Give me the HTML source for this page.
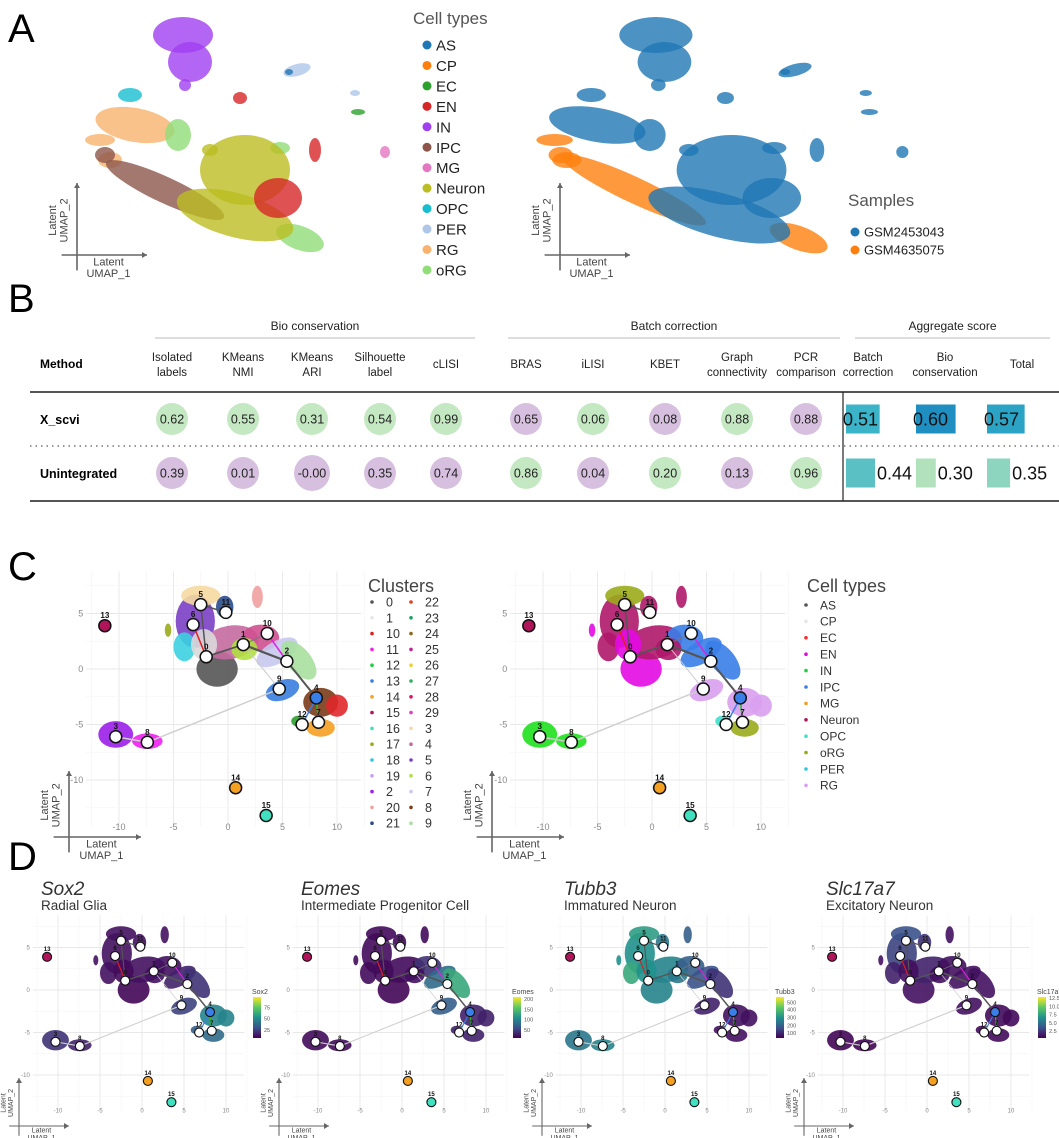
<!DOCTYPE html>
<html><head><meta charset="utf-8">
<style>
html,body{margin:0;padding:0;background:#fff;}
svg{display:block;font-family:"Liberation Sans","DejaVu Sans",sans-serif;}
.b text{font-family:"Liberation Sans","DejaVu Sans",sans-serif;}
</style></head>
<body>
<svg id="fig" width="1059" height="1138" viewBox="0 0 1059 1138" xmlns="http://www.w3.org/2000/svg">
<g id="pA"></g>
<g id="pB" class="b"></g>
<g id="pC"></g>
<g id="pD"></g>
<text x="8" y="42" font-size="40">A</text>
<text x="8" y="312" font-size="40">B</text>
<text x="8" y="580" font-size="40">C</text>
<text x="8" y="870" font-size="40">D</text>
</svg>
<script>
const NS='http://www.w3.org/2000/svg';
function mk(p,tag,at,txt){const e=document.createElementNS(NS,tag);for(const k in at)e.setAttribute(k,at[k]);if(txt!==undefined)e.textContent=txt;p.appendChild(e);return e;}

// ---------- Panel A data ----------
const aCellTypes=['AS','CP','EC','EN','IN','IPC','MG','Neuron','OPC','PER','RG','oRG'];
const aCellColors=['#1f77b4','#ff7f0e','#2ca02c','#d62728','#a03ff0','#8c564b','#e377c2','#bcbd22','#17becf','#aec7e8','#f9b36e','#90dd78'];
const aSamples=['GSM2453043','GSM4635075'];
const aSampleColors=['#1f77b4','#ff7f0e'];
const aBlobX=[183,190,185,130,135,100,110,178,300,280,165,105,245,235,210,278,240,315,297,289,355,358,385];
const aBlobY=[35,62,85,95,125,140,160,135,238,148,190,155,170,215,150,198,98,150,70,72,93,112,152];
const aBlobRX=[30,22,6,12,40,15,12,13,25,10,65,10,45,60,8,24,7,6,14,4,5,7,5];
const aBlobRY=[18,20,6,7,17,6,8,16,12,6,13,8,35,22,6,20,6,12,6,3,3,3,6];
const aBlobRot=[0,0,0,0,10,0,0,0,20,0,25,0,0,15,0,0,0,0,-15,0,0,0,0];
const aBlobType=[4,4,4,8,10,10,10,11,11,11,5,5,7,7,7,3,3,3,9,0,9,2,6];
const aBlobSample=[0,0,0,0,0,1,1,0,1,0,1,1,0,0,0,0,0,0,0,0,0,0,0];

const pA=document.getElementById('pA');
function latentAxes(g,x0,yb,vlen,hlen,fs,name){
  const a=mk(g,'g',{});
  
  
  mk(a,'line',{x1:x0,y1:yb+fs*1.4,x2:x0,y2:yb-vlen,stroke:'#666','stroke-width':fs>9?1.6:1.1});
  mk(a,'line',{x1:x0-fs*1.4,y1:yb,x2:x0+hlen,y2:yb,stroke:'#666','stroke-width':fs>9?1.6:1.1});
  mk(a,'polygon',{points:`${x0-3},${yb-vlen+5} ${x0},${yb-vlen} ${x0+3},${yb-vlen+5}`,fill:'#666'});
  mk(a,'polygon',{points:`${x0+hlen-5},${yb-3} ${x0+hlen},${yb} ${x0+hlen-5},${yb+3}`,fill:'#666'});
  const cx=x0+hlen*0.45;
  mk(a,'text',{x:cx,y:yb+fs*0.95,'font-size':fs,'text-anchor':'middle',fill:'#444'},'Latent');
  mk(a,'text',{x:cx,y:yb+fs*2.0,'font-size':fs,'text-anchor':'middle',fill:'#444'},'UMAP_1');
  const cy=yb-vlen*0.48;
  mk(a,'text',{x:0,y:0,'font-size':fs,'text-anchor':'middle',fill:'#444',transform:`translate(${x0-fs*1.9},${cy}) rotate(-90)`},'Latent');
  mk(a,'text',{x:0,y:0,'font-size':fs,'text-anchor':'middle',fill:'#444',transform:`translate(${x0-fs*0.85},${cy}) rotate(-90)`},'UMAP_2');
}
function drawA(offX,sx,useSample,name){
  const g=mk(pA,'g',{});
  
  
  for(let i=0;i<aBlobX.length;i++){
    const cx=offX+(aBlobX[i]-88)*sx, cy=aBlobY[i];
    const col=useSample?aSampleColors[aBlobSample[i]]:aCellColors[aBlobType[i]];
    const e=mk(g,'ellipse',{cx:cx,cy:cy,rx:aBlobRX[i]*sx,ry:aBlobRY[i],fill:col,opacity:0.8,transform:`rotate(${aBlobRot[i]} ${cx} ${cy})`});
    
    
  }
}
drawA(88,1,false,'umap-cell-types');
drawA(540,1.22,true,'umap-samples');
latentAxes(pA,77,255,72,70,11,'latent-axes-a-left');
latentAxes(pA,560,255,72,70,11,'latent-axes-a-right');
{
  const lg=mk(pA,'g',{});
  
  
  mk(lg,'text',{x:413,y:24,'font-size':17,fill:'#555'},'Cell types');
  aCellTypes.forEach((t,i)=>{
    const y=45+i*20.45;
    const c=mk(lg,'circle',{cx:427,cy:y,r:4.5,fill:aCellColors[i]});
    
    
    mk(lg,'text',{x:436,y:y+5.5,'font-size':15,fill:'#222'},t);
  });
  const sg=mk(pA,'g',{});
  
  
  mk(sg,'text',{x:848,y:206,'font-size':17,fill:'#555'},'Samples');
  aSamples.forEach((t,i)=>{
    const y=232+i*18;
    mk(sg,'circle',{cx:855,cy:y,r:4.5,fill:aSampleColors[i]});
    mk(sg,'text',{x:864,y:y+4.5,'font-size':13,fill:'#222'},t);
  });
}

// ---------- Panel B data ----------
const bGroups=['Bio conservation','Batch correction','Aggregate score'];
const bColHead=[['Isolated','labels'],['KMeans','NMI'],['KMeans','ARI'],['Silhouette','label'],['cLISI',''],['BRAS',''],['iLISI',''],['KBET',''],['Graph','connectivity'],['PCR','comparison'],['Batch','correction'],['Bio','conservation'],['Total','']];
const bMethods=['X_scvi','Unintegrated'];
const bScvi=[0.62,0.55,0.31,0.54,0.99,0.65,0.06,0.08,0.88,0.88];
const bUnint=[0.39,0.01,-0.00,0.35,0.74,0.86,0.04,0.20,0.13,0.96];
const bAggScvi=[0.51,0.60,0.57];
const bAggUnint=[0.44,0.30,0.35];
const bLabelsScvi=['0.62','0.55','0.31','0.54','0.99','0.65','0.06','0.08','0.88','0.88'];
const bLabelsUnint=['0.39','0.01','-0.00','0.35','0.74','0.86','0.04','0.20','0.13','0.96'];
const bAggLabScvi=['0.51','0.60','0.57'];
const bAggLabUnint=['0.44','0.30','0.35'];
{
  const g=document.getElementById('pB');
  const colX=[172,243,312,380,446,526,593,665,737,806,868,945,1022];
  const grp=[[155,475],[508,840],[855,1050]];
  bGroups.forEach((t,i)=>{
    mk(g,'text',{x:(grp[i][0]+grp[i][1])/2,y:330,'font-size':12,'text-anchor':'middle',fill:'#222'},t);
    mk(g,'line',{x1:grp[i][0],y1:338,x2:grp[i][1],y2:338,stroke:'#bbb','stroke-width':1});
  });
  mk(g,'text',{x:40,y:368,'font-size':12,'font-weight':'bold'},'Method');
  bColHead.forEach((h,i)=>{
    const t=mk(g,'text',{x:colX[i],y:h[1]?361:368,'font-size':11.5,'text-anchor':'middle',fill:'#222'},h[0]);
    
    
    if(h[1])mk(g,'text',{x:colX[i],y:376,'font-size':11.5,'text-anchor':'middle',fill:'#222'},h[1]);
  });
  mk(g,'line',{x1:30,y1:392,x2:1059,y2:392,stroke:'#555','stroke-width':2});
  mk(g,'line',{x1:30,y1:501,x2:1059,y2:501,stroke:'#555','stroke-width':2});
  mk(g,'line',{x1:30,y1:446,x2:1059,y2:446,stroke:'#777','stroke-width':1.5,'stroke-dasharray':'1.5 4'});
  mk(g,'line',{x1:843,y1:392,x2:843,y2:501,stroke:'#222','stroke-width':1.2});
  const rowY=[419,473];
  bMethods.forEach((m,i)=>mk(g,'text',{x:40,y:rowY[i]+5,'font-size':12.5,'font-weight':'bold'},m));
  const rows=[bScvi,bUnint], labs=[bLabelsScvi,bLabelsUnint];
  rows.forEach((vals,r)=>{
    vals.forEach((v,i)=>{
      const other=rows[1-r][i];
      const better=v>=other;
      const r0=16+(Math.abs(v)<0.005?2:0);
      const c=mk(g,'circle',{cx:colX[i],cy:rowY[r],r:r0,fill:better?'#c4e8c2':'#d7c0df'});
      
      
      mk(g,'text',{x:colX[i],y:rowY[r]+4.5,'font-size':12.5,'text-anchor':'middle',fill:'#222'},labs[r][i]);
    });
  });
  const aggX=[846,916,987];
  const bw=66;
  const aggRows=[bAggScvi,bAggUnint], aggLab=[bAggLabScvi,bAggLabUnint];
  const aggCol=[['#3bb3c8','#1f8fc2','#2aa3c4'],['#5bc0c4','#b2e2bc','#8ed5bf']];
  aggRows.forEach((vals,r)=>{
    vals.forEach((v,i)=>{
      const w=v*bw;
      const rect=mk(g,'rect',{x:aggX[i],y:rowY[r]-14.5,width:w,height:29,fill:aggCol[r][i]});
      
      
      const tx=r===0?aggX[i]-3:aggX[i]+w+2;
      mk(g,'text',{x:tx,y:rowY[r]+6.5,'font-size':18,fill:'#111'},aggLab[r][i]);
    });
  });
}

// ---------- Panels C / D shared UMAP data ----------
const uX=[-3,-2.5,-0.3,-1,0.2,-4,2.7,3,4.5,6.5,5,8.5,10,8.5,6.5,-10.3,-7.4,-5.5,-2.2,1.5];
const uY=[4.3,6.6,5.6,0,2.4,2.0,6.5,2.8,1.5,0.8,-1.9,-3,-3.3,-5.3,-4.7,-5.9,-6.5,3.5,2.2,1.8];
const uRX=[1.8,1.8,0.8,1.9,2.6,1.0,0.5,1.7,2.1,1.1,1.6,1.6,1.0,1.3,0.7,1.6,1.4,0.3,1.2,1.2];
const uRY=[2.4,0.9,1.0,1.6,1.5,1.3,1.0,1.2,1.0,2.1,0.9,1.3,1.0,0.8,0.5,1.2,0.7,0.6,1.4,1.0];
const uRot=[0,0,0,0,-10,0,0,0,-30,-40,-20,0,0,0,0,0,0,0,0,0];
const uClusterCol=['#7b3fc4','#f5d9a0','#2a4b8d','#555555','#c46aa0','#3cd0e0','#f0a0a0','#d05090','#c8c8f0','#a8e0a0','#3a7ee0','#7a3b1a','#e0282a','#f5a020','#2ca02c','#9a1fe8','#f020f0','#9aab1a','#d9d9d9','#b0e040'];
const uTypeCol=['#b0186a','#9aab1a','#b0186a','#e40ae4','#b0186a','#b0186a','#b0186a','#3a7ee8','#3a7ee8','#3a7ee8','#d8a0f0','#d8a0f0','#d8a0f0','#9aab1a','#40e0d0','#1fe01f','#1fe01f','#e40ae4','#e40ae4','#b0186a'];
const exprSox2=[0.05,0.05,0.05,0.02,0.05,0.05,0.05,0.05,0.1,0.15,0.2,0.45,0.45,0.35,0.3,0.15,0.1,0.05,0.03,0.05];
const exprEomes=[0.03,0.03,0.03,0.02,0.03,0.03,0.03,0.15,0.35,0.6,0.3,0.1,0.1,0.1,0.1,0.03,0.03,0.03,0.03,0.05];
const exprTubb3=[0.5,0.55,0.4,0.45,0.45,0.6,0.3,0.3,0.25,0.15,0.1,0.05,0.05,0.05,0.05,0.4,0.45,0.5,0.5,0.4];
const exprSlc17a7=[0.2,0.25,0.15,0.05,0.1,0.1,0.05,0.05,0.05,0.05,0.05,0.03,0.03,0.03,0.03,0.02,0.02,0.05,0.05,0.05];
const nodeIds=[5,11,6,0,1,10,2,9,4,12,7,3,8,13,14,15];
const nodeX=[-2.5,-0.2,-3.2,-2,1.4,3.6,5.4,4.7,8.1,6.8,8.3,-10.3,-7.4,-11.3,0.7,3.5];
const nodeY=[5.8,5.1,4.0,1.1,2.2,3.2,0.7,-1.8,-2.6,-5.0,-4.8,-6.1,-6.6,3.9,-10.7,-13.2];
const nodeFill=['#fff','#fff','#fff','#fff','#fff','#fff','#fff','#fff','#3a7ee8','#fff','#fff','#fff','#fff','#b0145a','#f5a020','#40e0c0'];
const edgeFrom=[5,5,6,0,1,1,10,2,4,4,9,3,1];
const edgeTo=[11,0,0,1,2,10,2,4,7,12,8,8,9];
const edgeCol=['#555','#555','#e02020','#555','#555','#777','#e020e0','#555','#20c020','#3a7ee8','#d0d0d0','#ccc','#ccc'];
const edgeW=[1.5,1.5,1.5,1.8,2.2,1,1.5,2,1.5,1.5,1.5,1.5,1];
const xTicks=[-10,-5,0,5,10];
const yTicks=[-10,-5,0,5];
const clusterLegend=['0','1','10','11','12','13','14','15','16','17','18','19','2','20','21','22','23','24','25','26','27','28','29','3','4','5','6','7','8','9'];
const clusterLegendCol=['#555','#e6e6e6','#e02020','#f020f0','#20d040','#3a7ee8','#f5a020','#b0145a','#40e0c0','#9aab1a','#30c8e0','#c8a0f0','#9a1fe8','#f0a0a0','#2a4b8d','#e04020','#20a060','#8a6a20','#c02090','#f0d030','#30b060','#e01060','#e040c0','#f5d9a0','#c46aa0','#7b3fc4','#b0e040','#c8c8f0','#7a3b1a','#a8e0a0'];
const typeLegend=['AS','CP','EC','EN','IN','IPC','MG','Neuron','OPC','oRG','PER','RG'];
const typeLegendCol=['#555','#e6e6e6','#f03030','#e40ae4','#20d040','#3a7ee8','#f5a020','#b0145a','#40e0d0','#9aab1a','#30c8e0','#d8a0f0'];

function viridis(t){
  const s=[[68,1,84],[59,82,139],[33,145,140],[94,201,98],[253,231,37]];
  t=Math.max(0,Math.min(1,t));const f=t*4,i=Math.min(3,Math.floor(f)),u=f-i;
  const c=s[i].map((v,k)=>Math.round(v+(s[i+1][k]-v)*u));return `rgb(${c[0]},${c[1]},${c[2]})`;
}
function umap(parent,o,name){
  const g=mk(parent,'g',{});
  
  
  const X=v=>o.ox+v*o.sx, Y=v=>o.oy-v*o.sy;
  for(let v=-12.5;v<=12.5;v+=2.5){const maj=v%5===0;
    mk(g,'line',{x1:X(v),y1:Y(-14.2),x2:X(v),y2:Y(8.8),stroke:maj?'#e8e8e8':'#f3f3f3','stroke-width':maj?0.9:0.6});}
  for(let v=-12.5;v<=7.5;v+=2.5){const maj=v%5===0;
    mk(g,'line',{x1:X(-13),y1:Y(v),x2:X(12.2),y2:Y(v),stroke:maj?'#e8e8e8':'#f3f3f3','stroke-width':maj?0.9:0.6});}
  xTicks.forEach(t=>mk(g,'text',{x:X(t),y:Y(-13.6)+o.fs+1,'font-size':o.fs,'text-anchor':'middle',fill:'#888'},String(t)));
  yTicks.forEach(t=>mk(g,'text',{x:X(-13)-3,y:Y(t)+o.fs*0.35,'font-size':o.fs,'text-anchor':'end',fill:'#888'},String(t)));
  for(let i=0;i<uX.length;i++){
    const cx=X(uX[i]),cy=Y(uY[i]);
    const e=mk(g,'ellipse',{cx:cx,cy:cy,rx:uRX[i]*o.sx,ry:uRY[i]*o.sy,fill:o.col(i),opacity:0.9,transform:`rotate(${uRot[i]} ${cx} ${cy})`});
    
    
  }
  const pos=id=>{const k=nodeIds.indexOf(id);return [X(nodeX[k]),Y(nodeY[k])];};
  edgeFrom.forEach((f,i)=>{const a=pos(f),b=pos(edgeTo[i]);
    const l=mk(g,'line',{x1:a[0],y1:a[1],x2:b[0],y2:b[1],stroke:edgeCol[i],'stroke-width':edgeW[i]*o.nr/6});
    
    
  });
  nodeIds.forEach((id,k)=>{
    const cx=X(nodeX[k]),cy=Y(nodeY[k]);
    const c=mk(g,'circle',{cx:cx,cy:cy,r:o.nr,fill:nodeFill[k],stroke:'#111','stroke-width':o.nr/4});
    
    
    mk(g,'text',{x:cx,y:cy-o.nr-1.5,'font-size':o.nr*1.35,'font-weight':'bold','text-anchor':'middle',fill:'#111'},String(id));
  });
  return g;
}
const pC=document.getElementById('pC');
umap(pC,{ox:228,oy:669,sx:10.9,sy:11.1,fs:9,nr:6,col:i=>uClusterCol[i]},'umap-clusters');
umap(pC,{ox:652,oy:669,sx:10.9,sy:11.1,fs:9,nr:6,col:i=>uTypeCol[i]},'umap-cell-types-c');
latentAxes(pC,69,837,66,72,11,'latent-axes-c-left');
latentAxes(pC,492,837,66,72,11,'latent-axes-c-right');
{
  const lg=mk(pC,'g',{});
  
  
  mk(lg,'text',{x:368,y:592,'font-size':18,fill:'#444'},'Clusters');
  clusterLegend.forEach((t,i)=>{
    const col=Math.floor(i/15),row=i%15,y=602+row*15.8;
    const d=mk(lg,'circle',{cx:372+col*39,cy:y,r:1.8,fill:clusterLegendCol[i]});
    
    
    mk(lg,'text',{x:386+col*39,y:y+4.5,'font-size':12.5,fill:'#333'},t);
  });
  const lt=mk(pC,'g',{});
  
  
  mk(lt,'text',{x:807,y:592,'font-size':18,fill:'#444'},'Cell types');
  typeLegend.forEach((t,i)=>{
    const y=605+i*16.4;
    const d=mk(lt,'circle',{cx:806,cy:y,r:1.8,fill:typeLegendCol[i]});
    
    
    mk(lt,'text',{x:820,y:y+4.3,'font-size':12,fill:'#333'},t);
  });
}

// ---------- Panel D ----------
const dGenes=['Sox2','Eomes','Tubb3','Slc17a7'];
const dSubs=['Radial Glia','Intermediate Progenitor Cell','Immatured Neuron','Excitatory Neuron'];
const dTicks=[['25','50','75'],['50','100','150','200'],['100','200','300','400','500'],['2.5','5.0','7.5','10.0','12.5']];
const dTickFrac=[[0.2,0.47,0.75],[0.2,0.45,0.7,0.95],[0.12,0.3,0.5,0.7,0.87],[0.17,0.37,0.57,0.77,0.97]];
const dExpr=[exprSox2,exprEomes,exprTubb3,exprSlc17a7];
{
  const pD=document.getElementById('pD');
  const origins=[142,402,665,927];
  dGenes.forEach((gname,p)=>{
    const o=origins[p];
    const g=mk(pD,'g',{});
    
    
    mk(g,'text',{x:o-101,y:895,'font-size':19,'font-style':'italic',fill:'#333'},gname);
    mk(g,'text',{x:o-101,y:910,'font-size':13.5,fill:'#333'},dSubs[p]);
    umap(g,{ox:o,oy:990,sx:8.4,sy:8.5,fs:6,nr:4.5,col:i=>viridis(dExpr[p][i])},'umap-'+gname.toLowerCase());
    const cbx=o+111,cbt=997,cbh=41;
    const gid='vir'+p;
    const defs=mk(g,'defs',{});
    const lgd=mk(defs,'linearGradient',{id:gid,x1:0,y1:1,x2:0,y2:0});
    [0,0.25,0.5,0.75,1].forEach(s=>mk(lgd,'stop',{offset:s,'stop-color':viridis(s)}));
    const cb=mk(g,'rect',{x:cbx,y:cbt,width:8,height:cbh,fill:`url(#${gid})`});
    
    
    mk(g,'text',{x:cbx-1,y:cbt-3,'font-size':7,fill:'#444'},gname);
    dTicks[p].forEach((t,k)=>mk(g,'text',{x:cbx+11,y:cbt+cbh-dTickFrac[p][k]*cbh+2,'font-size':5.5,fill:'#555'},t));
    latentAxes(g,o-123,1126,48,50,7,'latent-axes-d-'+gname.toLowerCase());
  });
}
</script>
</body></html>
